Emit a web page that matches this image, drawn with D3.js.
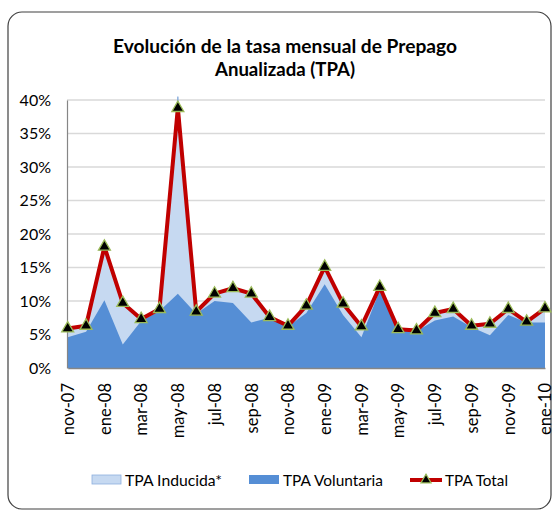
<!DOCTYPE html>
<html><head><meta charset="utf-8">
<script src="https://cdn.jsdelivr.net/npm/d3@7"></script>
<style>body{margin:0;background:#fff}svg{display:block}</style>
</head><body>
<svg id="c" width="558" height="513"></svg>
<script>
const months = ["nov-07","dic-07","ene-08","feb-08","mar-08","abr-08","may-08","jun-08","jul-08","ago-08","sep-08","oct-08","nov-08","dic-08","ene-09","feb-09","mar-09","abr-09","may-09","jun-09","jul-09","ago-09","sep-09","oct-09","nov-09","dic-09","ene-10"];
const voluntaria = [4.6,5.4,10.1,3.5,7.0,8.5,11.1,8.1,10.0,9.7,6.8,7.5,6.2,8.2,12.5,7.9,4.6,11.6,5.7,5.5,7.1,7.7,6.1,4.9,7.9,6.8,6.8];
const inducida   = [1.3,0.9,8.0,6.2,0.3,0.3,29.4,0.3,1.1,2.2,4.3,0.1,0.1,1.1,2.6,1.7,1.6,0.5,0.1,0.1,1.1,1.1,0.2,1.7,0.9,0.1,2.1];
const total      = [5.9,6.3,18.1,9.7,7.3,8.8,38.8,8.4,11.1,11.9,11.1,7.6,6.3,9.3,15.1,9.6,6.2,12.1,5.8,5.6,8.2,8.8,6.3,6.6,8.8,6.9,8.9];
const yTicks = [0,5,10,15,20,25,30,35,40];
const xTickLabels = months.filter((d,i)=>i%2===0);
const seriesNames = ["TPA Inducida*","TPA Voluntaria","TPA Total"];

const svg = d3.select("#c");
const font = "Lato, 'Open Sans', sans-serif";

svg.append("rect").attr("x",8).attr("y",12).attr("width",543).attr("height",497)
  .attr("rx",14).attr("fill","#fff").attr("stroke","#404040").attr("stroke-width",1.2);

svg.append("text").attr("x",285).attr("y",53).attr("text-anchor","middle")
  .attr("font-family",font).attr("font-weight","bold").attr("font-size",18.5).attr("fill","#000")
  .attr("textLength",344).attr("lengthAdjust","spacingAndGlyphs")
  .text("Evolución de la tasa mensual de Prepago");
svg.append("text").attr("x",285).attr("y",76).attr("text-anchor","middle")
  .attr("font-family",font).attr("font-weight","bold").attr("font-size",18.5).attr("fill","#000")
  .attr("textLength",140).attr("lengthAdjust","spacingAndGlyphs")
  .text("Anualizada (TPA)");

const x = d3.scalePoint().domain(months).range([67.7,545]).padding(0);
const y = d3.scaleLinear().domain([0,40]).range([368,100]);

svg.append("g").selectAll("line").data(yTicks.filter(d=>d>0)).join("line")
  .attr("x1",67).attr("x2",545).attr("y1",d=>y(d)).attr("y2",d=>y(d))
  .attr("stroke","#d9d9d9").attr("stroke-width",1.3);

const data = months.map((m,i)=>({m, v:voluntaria[i], ind:inducida[i], t:total[i]}));

const areaStack = d3.area().x(d=>x(d.m)).y0(y(0)).y1(d=>y(d.v+d.ind));
svg.append("path").datum(data).attr("d",areaStack).attr("fill","#c6d9f1");
svg.append("path").datum(data).attr("d",d3.line().x(d=>x(d.m)).y(d=>y(d.v+d.ind)))
  .attr("fill","none").attr("stroke","#8db0de").attr("stroke-width",1);
const areaV = d3.area().x(d=>x(d.m)).y0(y(0)).y1(d=>y(d.v));
svg.append("path").datum(data).attr("d",areaV).attr("fill","#558ed5");

const yAxis = d3.axisLeft(y).tickValues(yTicks).tickFormat(d=>d+"%").tickSize(0).tickPadding(16);
const gy = svg.append("g").attr("transform","translate(67,0)").call(yAxis);
gy.select(".domain").attr("stroke","#868686").attr("stroke-width",1.2);
gy.selectAll("text").attr("font-family",font).attr("font-size",16).attr("fill","#000");

const xAxis = d3.axisBottom(x).tickValues(xTickLabels).tickSize(0).tickPadding(0);
const gx = svg.append("g").attr("transform","translate(0,368)").call(xAxis);
gx.select(".domain").attr("stroke","#868686").attr("stroke-width",1.5);
gx.selectAll("text").attr("font-family",font).attr("font-size",16.5).attr("fill","#000")
  .attr("transform","rotate(-90)").attr("text-anchor","end")
  .attr("x",-15).attr("y",0).attr("dy","0.35em");

svg.append("path").datum(data).attr("d",d3.line().x(d=>x(d.m)).y(d=>y(d.t)))
  .attr("fill","none").attr("stroke","#c00000").attr("stroke-width",4).attr("stroke-linejoin","round");
const tri = d3.symbol().type(d3.symbolTriangle).size(62);
svg.append("g").selectAll("path").data(data).join("path")
  .attr("d",tri).attr("transform",d=>`translate(${x(d.m)},${y(d.t)})`)
  .attr("fill","#000").attr("stroke","#9bbb59").attr("stroke-width",1.3);

const lg = svg.append("g").attr("font-family",font).attr("font-size",16);
lg.append("rect").attr("x",92).attr("y",475).attr("width",29).attr("height",9).attr("fill","#c6d9f1").attr("stroke","#8db0de").attr("stroke-width",0.8);
lg.append("text").attr("x",125).attr("y",486).attr("textLength",97).attr("lengthAdjust","spacingAndGlyphs").text(seriesNames[0]);
lg.append("rect").attr("x",249).attr("y",475).attr("width",30).attr("height",9).attr("fill","#558ed5");
lg.append("text").attr("x",283).attr("y",486).attr("textLength",100).attr("lengthAdjust","spacingAndGlyphs").text(seriesNames[1]);
lg.append("line").attr("x1",410).attr("x2",442).attr("y1",480).attr("y2",480).attr("stroke","#c00000").attr("stroke-width",4);
lg.append("path").attr("d",d3.symbol().type(d3.symbolTriangle).size(45)).attr("transform","translate(426,480)").attr("fill","#000").attr("stroke","#9bbb59").attr("stroke-width",1.2);
lg.append("text").attr("x",445).attr("y",486).attr("textLength",63).attr("lengthAdjust","spacingAndGlyphs").text(seriesNames[2]);
</script>
</body></html>
